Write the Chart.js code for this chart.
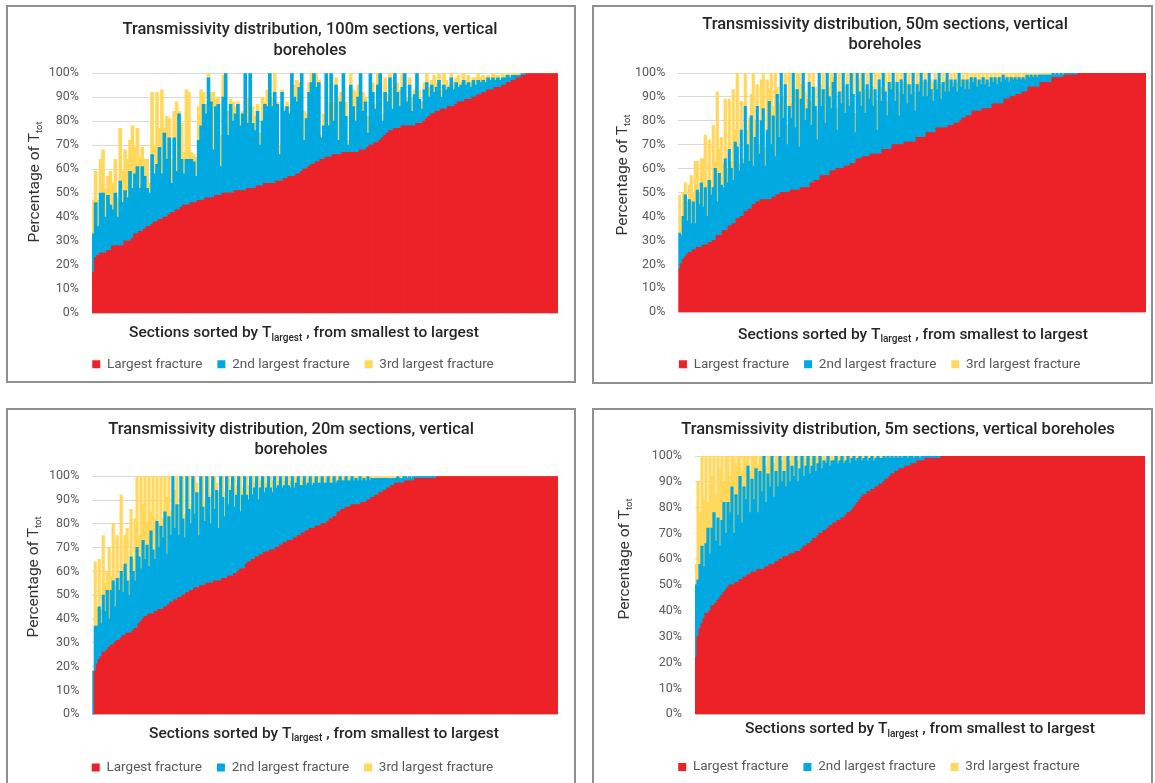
<!DOCTYPE html>
<html><head><meta charset="utf-8">
<script src="https://cdn.jsdelivr.net/npm/chart.js@4.4.1/dist/chart.umd.min.js"></script>
<style>
html,body{margin:0;padding:0;background:#fff;width:1155px;height:783px;overflow:hidden;}
.frame{position:absolute;box-sizing:border-box;border:2px solid #8f8f8f;}
canvas{position:absolute;}
</style></head><body>
<div class="frame" style="left:6px;top:5px;width:570px;height:378px"></div>
<div class="frame" style="left:592px;top:5px;width:561px;height:379px"></div>
<div class="frame" style="left:6px;top:408px;width:570px;height:400px"></div>
<div class="frame" style="left:592px;top:408px;width:561px;height:400px"></div>
<canvas id="c1" width="564" height="374" style="left:9px;top:8px;width:564px;height:374px"></canvas>
<canvas id="c2" width="555" height="374" style="left:595px;top:8px;width:555px;height:374px"></canvas>
<canvas id="c3" width="564" height="376" style="left:9px;top:410px;width:564px;height:376px"></canvas>
<canvas id="c4" width="555" height="376" style="left:595px;top:410px;width:555px;height:376px"></canvas>
<script>
// ---------- texts ----------
const seriesNames = ['Largest fracture', '2nd largest fracture', '3rd largest fracture'];
const yTickLabels = ['0%','10%','20%','30%','40%','50%','60%','70%','80%','90%','100%'];
const xTitleParts = ['Sections sorted by T', 'largest', ' , from smallest to largest'];
const yTitleParts = ['Percentage of T', 'tot', ''];
const panelTitles = [
  ['Transmissivity distribution, 100m sections, vertical', 'boreholes'],
  ['Transmissivity distribution, 50m sections, vertical', 'boreholes'],
  ['Transmissivity distribution, 20m sections, vertical', 'boreholes'],
  ['Transmissivity distribution, 5m sections, vertical boreholes']
];

// ---------- 100m sections ----------
const p1Largest = [
17,23,24,25,25,25,26,26,28,28, 28,28,28,30,30,30,31,33,33,34,
34,35,36,36,37,38,38,39,39,40, 40,41,42,42,43,43,44,45,45,45,
46,46,46,47,47,47,48,48,48,48, 49,49,49,50,50,50,50,50,51,51,
51,51,51,52,52,52,52,53,53,53, 54,54,54,54,54,55,55,55,56,56,
57,57,57,58,58,59,60,60,61,62, 62,63,63,64,64,65,65,65,66,66,
66,66,67,67,67,67,67,67,67,68, 68,68,69,70,70,71,71,72,73,74,
75,76,76,77,77,77,78,78,78,78, 78,78,79,79,79,80,81,82,83,83,
84,84,85,85,85,86,86,86,87,88, 88,88,89,89,89,90,90,91,91,92,
92,93,93,93,94,94,94,95,95,96, 96,97,97,98,98,99,99,100,100,100,
100,100,100,100,100,100,100,100,100,100];
const p1Second = [
16,23,12,25,25,15,23,19,15,22, 12,27,18,21,18,29,21,25,28,18,
27,22,16,14,29,20,24,30,19,35, 24,32,12,31,16,40,20,13,19,19,
18,17,11,25,31,40,35,50,40,20, 37,38,12,40,50,24,37,30,32,36,
27,32,49,27,48,27,24,31,17,27, 33,32,46,32,38,32,11,37,28,30,
26,43,33,30,36,41,12,21,31,34, 38,31,33,9,14,35,13,35,14,29,
6,22,33,15,3,28,19,13,23,32, 16,20,6,30,22,14,24,28,7,18,
13,22,9,23,15,9,16,22,10,17, 6,13,21,10,6,13,15,8,12,9,
10,13,5,10,8,8,12,7,9,6, 7,9,6,7,5,7,5,6,5,5,
4,5,4,5,3,4,3,3,3,3, 2,2,2,1,1,1,1];
const p1Third = [
14,13,11,14,18,12,8,14,11,14, 8,22,13,17,16,13,26,11,16,13,
8,7,12,4,26,12,30,8,35,2, 18,8,10,11,29,1,15,9,29,28,
3,3,8,14,15,5,4,2,4,24, 3,3,13,9,0,10,2,8,3,1,
5,1,0,11,0,7,6,3,5,10, 1,7,0,4,8,1,4,1,1,2,
1,0,5,9,2,0,12,2,4,4, 0,6,1,1,5,0,10,0,8,3,
18,4,0,6,2,5,7,12,5,0, 8,2,7,0,4,2,5,0,3,6,
3,2,9,0,4,7,6,0,2,3, 6,2,0,4,3,3,4,4,2,7,
2,3,3,5,4,1,2,3,2,5, 1,3,2,3,2,1,3,3,2,2,
2,1,1,2,2,1,1,2,1,1, 1,1,1,1,1,0,0];

// ---------- 50m sections ----------
const p2Largest = [
18,20,22,23,24,25,25,26,26,27, 27,27,28,28,28,29,29,30,30,32,
32,32,34,34,34,36,36,37,37,39, 39,40,40,42,42,43,43,45,45,46,
46,47,47,47,47,47,47,48,48,49, 49,50,50,50,50,50,51,51,51,51,
51,52,52,52,52,52,54,54,55,55, 55,57,57,57,57,57,59,59,59,60,
60,60,60,61,61,61,62,62,62,64, 64,64,65,65,65,65,66,66,66,66,
66,66,68,68,68,68,68,70,70,70, 70,70,70,71,71,71,71,71,71,73,
73,73,73,73,75,75,75,75,75,77, 77,77,77,77,77,78,78,78,79,79,
79,80,81,81,82,82,82,84,84,84, 84,84,85,85,85,85,85,87,87,87,
87,87,87,89,89,89,90,90,90,91, 91,91,92,92,92,94,94,94,94,94,
94,96,96,96,96,96,96,98,98,98, 98,98,98,99,99,99,99,99,99,99,
100,100,100,100,100,100,100,100,100,100, 100,100,100,100,100,100,100,100,100,100,
100,100,100,100,100,100,100,100,100,100, 100,100,100,100];
const p2Second = [
15,12,18,26,14,22,12,20,11,24, 18,27,16,24,12,26,20,22,30,14,
26,21,18,30,20,32,24,18,34,30, 20,36,22,44,28,20,39,16,28,40,
20,33,38,14,29,41,23,34,17,42, 24,50,31,45,20,36,30,49,26,42,
18,37,48,28,33,44,24,40,31,17, 45,29,36,22,43,33,26,37,41,16,
32,27,40,22,34,25,38,29,13,36, 28,22,35,18,30,24,34,20,27,10,
31,22,32,24,14,28,25,30,18,26, 12,27,21,29,16,24,20,29,13,22,
19,27,17,24,15,25,18,13,22,16, 23,12,19,15,23,14,19,16,18,13,
21,14,16,12,15,11,16,12,14,10, 13,11,13,10,12,9,13,9,11,8,
11,9,12,8,9,7,8,7,8,6, 7,6,6,5,7,4,5,4,5,4,
5,3,3,3,3,3,3,2,1,2, 1,2,1,1,1,1,1,1,1,1];
const p2Third = [
16,8,10,5,8,6,20,4,26,12, 5,10,20,22,15,17,6,26,3,46,
10,20,10,25,6,21,3,38,5,31, 3,12,2,14,6,18,9,39,7,9,
4,17,15,8,21,5,30,4,35,3, 14,0,9,5,8,14,6,0,16,7,
31,6,0,12,4,4,10,6,8,12, 0,9,7,14,0,4,15,2,0,9,
8,5,0,11,5,3,0,9,8,0, 5,14,0,10,5,4,0,8,7,12,
3,6,0,8,6,4,3,0,8,4, 10,3,5,0,9,5,4,0,8,5,
4,0,6,3,6,0,4,8,3,3, 0,6,4,5,0,5,3,2,3,4,
0,3,3,4,3,3,2,2,2,3, 3,2,2,3,3,2,2,2,2,2,
2,2,1,2,2,2,2,1,2,2, 2,1,2,2,1,1,1,1,1,1,
1,1,1,0,1,1,0,0,1,0, 1,0,1,0,0,0,0,0,0,0];

// ---------- 20m sections ----------
const p3Largest = [
0,18,21,23,24,26,26,27,28,29, 29,30,31,31,32,33,33,34,34,34,
35,36,36,38,39,40,41,41,42,42, 42,43,43,44,44,44,45,45,46,47,
47,48,48,49,49,50,50,51,51,52, 52,53,53,53,54,54,54,55,55,55,
55,56,56,56,56,57,57,57,58,58, 58,59,59,60,61,61,61,63,64,64,
65,65,66,66,67,67,68,68,68,69, 69,69,70,70,71,71,72,72,73,73,
73,74,74,75,75,76,76,77,77,78, 78,78,79,79,79,80,80,80,81,82,
82,83,83,85,85,86,86,87,87,87, 88,88,88,88,88,89,89,89,90,90,
91,91,92,92,93,93,94,94,95,95, 96,96,97,97,97,97,97,98,98,98,
98,98,99,99,99,99,99,99,99,99, 99,99,99,100,100,100,100,100,100,100,
100,100,100,100,100,100,100,100,100,100, 100,100,100,100,100,100,100,100,100,100,
100,100,100,100,100,100,100,100,100,100, 100,100,100,100,100,100,100,100,100,100,
100,100,100,100,100,100,100,100,100,100, 100,100,100,100];
const p3Second = [
18,19,16,22,14,24,17,25,12,23, 27,15,26,21,28,18,30,22,16,32,
25,20,34,28,22,33,24,30,20,35, 27,22,38,26,35,30,40,22,37,28,
53,30,40,26,51,32,24,49,35,28, 48,31,40,22,46,33,27,45,36,25,
45,30,38,22,44,34,26,43,30,36, 42,28,33,40,24,31,39,29,26,36,
27,30,34,24,28,33,25,27,32,26, 24,31,25,26,29,24,24,28,23,22,
27,21,23,25,21,20,24,19,20,22, 18,19,21,18,18,20,17,17,19,15,
15,17,14,13,15,12,12,13,11,11, 12,10,11,10,12,9,10,9,10,8,
8,8,7,7,6,6,5,5,4,4, 3,3,2,3,2,2,3,2,1,2,
1,2,1,1,1,1,1,1,1,1, 1,1,1];
const p3Third = [
0,27,8,20,6,25,12,8,30,6, 24,9,18,5,32,11,12,22,6,20,
5,26,30,9,39,15,35,10,38,8, 31,17,19,10,21,8,15,24,17,10,
0,16,12,13,0,18,10,0,14,8, 0,16,4,18,0,13,8,0,9,12,
0,14,3,15,0,9,10,0,12,2, 0,13,4,0,15,3,0,8,6,0,
8,2,0,10,3,0,7,2,0,5, 5,0,5,2,0,5,2,0,4,3,
0,5,2,0,4,2,0,4,2,0, 4,2,0,3,2,0,3,2,0,3,
2,0,3,1,0,2,1,0,2,1, 0,2,1,1,0,2,1,1,0,2,
1,0,1,1,1,0,1,1,1,0, 1,1,1,0,1,0,0,0,1,0,
1,0,0,0,0,0,0,0,0,0, 0,0,0];

// ---------- 5m sections ----------
const p4Largest = [
22,30,33,35,37,39,39,40,42,42, 43,44,45,46,47,48,49,50,50,50,
51,51,52,52,53,53,54,54,55,55, 55,56,56,56,56,57,57,58,58,58,
59,59,60,60,61,61,61,62,62,62, 63,63,63,64,65,65,66,66,67,68,
68,69,70,70,71,71,72,73,73,74, 74,75,75,76,76,77,78,78,79,80,
81,82,83,84,85,85,86,86,87,87, 88,88,89,89,90,91,91,92,93,93,
94,94,95,95,95,96,96,96,97,97, 97,98,98,98,98,99,99,99,99,99,
99,99,99,100,100,100,100,100,100,100, 100,100,100,100,100,100,100,100,100,100,
100,100,100,100,100,100,100,100,100,100, 100,100,100,100,100,100,100,100,100,100,
100,100,100,100,100,100,100,100,100,100, 100,100,100,100,100,100,100,100,100,100,
100,100,100,100,100,100,100,100,100,100, 100,100,100,100,100,100,100,100,100,100,
100,100,100,100,100,100,100,100,100,100, 100,100,100,100,100,100,100,100,100,100,
100,100,100,100,100];
const p4Second = [
28,22,25,30,20,27,33,22,30,36, 24,32,20,29,35,22,33,28,38,20,
34,26,40,22,35,30,42,24,36,28, 40,22,38,30,44,25,36,30,42,26,
35,29,40,30,33,27,39,28,34,30, 37,27,32,36,27,31,34,27,29,32,
26,28,30,25,27,26,28,23,25,24, 26,22,23,24,21,21,22,19,20,20,
17,17,17,14,14,15,12,13,13,11, 11,12,10,10,10,8,9,7,7,6,
6,5,5,4,5,4,3,4,3,2, 3,2,1,2,2,1,1,1,1,1,
1,1,1];
const p4Third = [
8,38,20,35,26,34,10,38,20,22, 18,24,30,25,8,30,18,14,12,30,
12,23,8,20,12,17,4,16,9,17, 5,18,6,14,0,14,7,12,0,13,
6,12,0,8,6,12,0,8,4,8, 0,8,5,0,8,3,0,7,3,0,
6,2,0,5,2,2,0,4,2,1, 0,3,2,0,3,1,0,3,1,0,
2,1,0,2,1,0,2,1,0,2, 1,0,1,1,0,1,0,1,0,1,
0,1,0,1,0,0,1,0,0,1, 0,0,1,0,0,0,0,0,0,0,
0,0,0];

// ---------- styles / layout ----------
const RED = '#EC2228', BLUE = '#00A9DF', YELLOW = '#FFD85C';
const FONT = "Roboto, 'DejaVu Sans', sans-serif";
const LEG_PAD = 15, LEG_FONT = 13.5;

const panels = [
  {id:'c1', W:564, H:374, plotL:83, plotR:549, plotT:65.3, plotB:305.3, legendY:356.3,
   padL:19, titleX:301, titleY:22.3, xTitleX:295, xTitleY:323.5, yTitleX:24, yTitleY:174,
   data:[p1Largest,p1Second,p1Third], title:panelTitles[0]},
  {id:'c2', W:555, H:374, plotL:83.3, plotR:551, plotT:65, plotB:304.3, legendY:356.3,
   padL:18.4, titleX:290, titleY:16.7, xTitleX:318, xTitleY:325, yTitleX:26, yTitleY:167,
   data:[p2Largest,p2Second,p2Third], title:panelTitles[1]},
  {id:'c3', W:564, H:376, plotL:83.3, plotR:549, plotT:66.3, plotB:304.3, legendY:357.5,
   padL:18, titleX:282, titleY:19.6, xTitleX:315, xTitleY:322, yTitleX:23, yTitleY:167,
   data:[p3Largest,p3Second,p3Third], title:panelTitles[2]},
  {id:'c4', W:555, H:376, plotL:100, plotR:550, plotT:46, plotB:304.3, legendY:357,
   padL:18, titleX:303, titleY:20, xTitleX:325, xTitleY:317.7, yTitleX:28, yTitleY:149,
   data:[p4Largest,p4Second,p4Third], title:panelTitles[3]}
];

function drawSubText(ctx, parts, cx, cy, weight, size, subSize) {
  const mainF = weight + ' ' + size + 'px ' + FONT, subF = weight + ' ' + subSize + 'px ' + FONT;
  ctx.font = mainF;
  const w0 = ctx.measureText(parts[0]).width, w2 = ctx.measureText(parts[2]).width;
  ctx.font = subF;
  const w1 = ctx.measureText(parts[1]).width;
  let x = cx - (w0 + w1 + w2) / 2;
  const base = cy + size * 0.37;
  ctx.textAlign = 'left'; ctx.textBaseline = 'alphabetic';
  ctx.font = mainF; ctx.fillText(parts[0], x, base); x += w0;
  ctx.font = subF; ctx.fillText(parts[1], x, base + 3.5); x += w1;
  ctx.font = mainF; ctx.fillText(parts[2], x, base);
}

const panelTextPlugin = {
  id: 'panelText',
  afterDraw(chart, args, o) {
    const ctx = chart.ctx;
    ctx.save();
    ctx.fillStyle = '#262626';
    ctx.textAlign = 'center'; ctx.textBaseline = 'middle';
    ctx.font = '500 16.5px ' + FONT;
    o.lines.forEach((t, k) => ctx.fillText(t, o.titleX, o.titleY + k * 20.5));
    drawSubText(ctx, xTitleParts, o.xTitleX, o.xTitleY, '500', 15.5, 10);
    ctx.translate(o.yTitleX, o.yTitleY);
    ctx.rotate(-Math.PI / 2);
    ctx.fillStyle = '#333333';
    drawSubText(ctx, yTitleParts, 0, 0, '400', 15.5, 9.5);
    ctx.restore();
  }
};

panels.forEach(cfg => {
  const legendH = LEG_FONT + LEG_PAD + 10;
  const padB = cfg.H - cfg.legendY - (LEG_FONT + 10 - LEG_FONT / 2);
  const labels = cfg.data[0].map((_, i) => i + 1);
  const colors = [RED, BLUE, YELLOW];
  new Chart(document.getElementById(cfg.id), {
    type: 'bar',
    data: {
      labels: labels,
      datasets: cfg.data.map((d, k) => ({label: seriesNames[k], data: d, backgroundColor: colors[k],
        borderWidth: 0, barPercentage: 1, categoryPercentage: 1, inflateAmount: 0.6}))
    },
    options: {
      responsive: false, animation: false, events: [], devicePixelRatio: 1,
      layout: {padding: {left: cfg.padL, right: cfg.W - cfg.plotR, top: cfg.plotT, bottom: padB}},
      scales: {
        x: {stacked: true, grid: {display: false}, border: {display: false}, ticks: {display: false},
            afterFit: s => { s.height = cfg.H - padB - legendH - cfg.plotB; }},
        y: {stacked: true, min: 0, max: 100, border: {display: false},
            grid: {color: '#d9d9d9', lineWidth: 1, drawTicks: false},
            ticks: {stepSize: 10, padding: 13, color: '#595959', font: {family: FONT, size: 12.5},
                    callback: v => yTickLabels[Math.round(v / 10)]},
            afterFit: s => { s.width = cfg.plotL - cfg.padL; }}
      },
      plugins: {
        legend: {position: 'bottom', labels: {boxWidth: 8, boxHeight: 8, padding: LEG_PAD,
                 color: '#595959', font: {family: FONT, size: LEG_FONT}}},
        tooltip: {enabled: false},
        title: {display: false},
        panelText: {lines: cfg.title, titleX: cfg.titleX, titleY: cfg.titleY,
                    xTitleX: cfg.xTitleX, xTitleY: cfg.xTitleY, yTitleX: cfg.yTitleX, yTitleY: cfg.yTitleY}
      }
    },
    plugins: [panelTextPlugin]
  });
});
</script>
</body></html>
